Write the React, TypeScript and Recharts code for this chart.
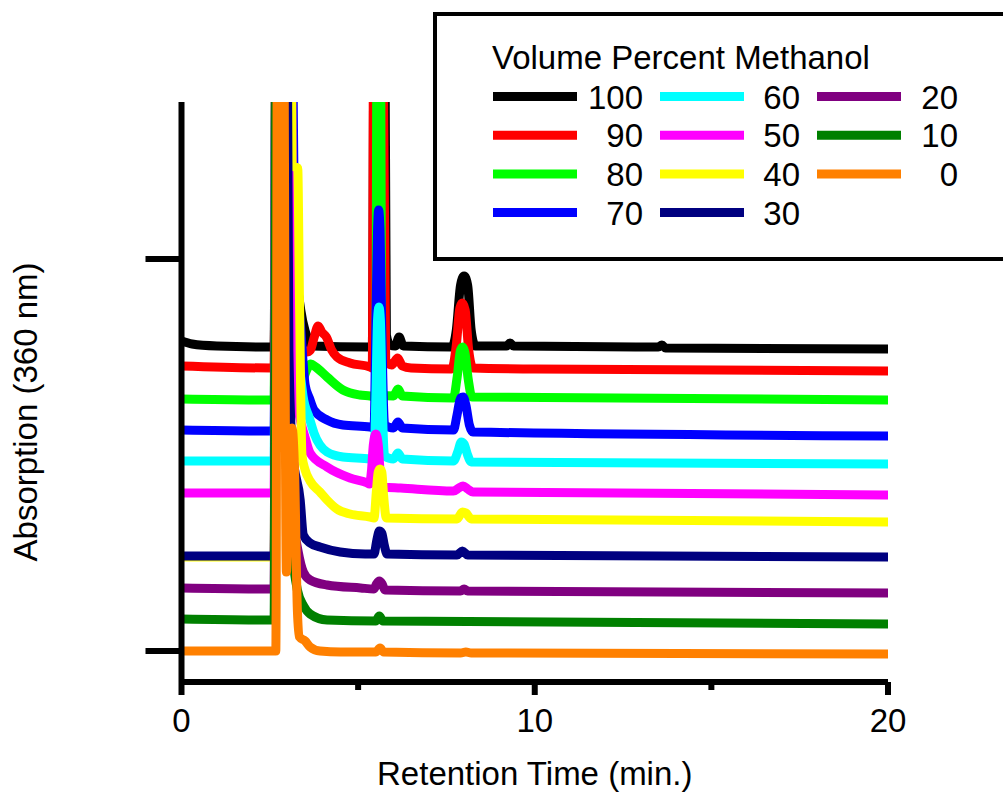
import React from 'react';
import { LineChart, Line, XAxis, YAxis, Legend } from 'recharts';

// Retention time (min) vs absorbance (mAU, offset per trace); 900 = off-scale peak
const trace100: [number, number][] = [
  [0, 310], [0.3, 307], [1.0, 305], [2.55, 304], [2.62, 304], [2.7, 900], [3.05, 900], [3.17, 420], [3.38, 340],
  [3.5, 320], [3.58, 312], [3.68, 305], [5.3, 304], [5.4, 304], [5.48, 900], [5.72, 900], [5.8, 316], [5.9, 306],
  [6.05, 305], [6.16, 314], [6.28, 305], [7.65, 304], [7.78, 321], [7.9, 366], [8.0, 375], [8.1, 366], [8.2, 321],
  [8.32, 305], [9.2, 305], [9.3, 308], [9.4, 305], [13.5, 304], [13.6, 306], [13.7, 303], [20, 302],
];
const trace90: [number, number][] = [
  [0, 285], [2.55, 283], [2.62, 283], [2.7, 900], [3.04, 900], [3.16, 351], [3.36, 306], [3.55, 299], [3.65, 301],
  [3.75, 313], [3.87, 325], [3.97, 319], [4.1, 314], [4.25, 301], [4.4, 294], [4.77, 288], [5.34, 284], [5.4, 283],
  [5.46, 900], [5.64, 900], [5.78, 291], [5.95, 286], [6.12, 293], [6.25, 285], [6.5, 283], [7.65, 282], [7.78, 306],
  [7.88, 343], [7.95, 348], [8.03, 341], [8.13, 301], [8.25, 283], [10, 282], [20, 280],
];
const trace80: [number, number][] = [
  [0, 252], [2.55, 251], [2.62, 251], [2.7, 900], [3.04, 900], [3.16, 321], [3.38, 266], [3.52, 279], [3.66, 287],
  [3.8, 284], [4.12, 274], [4.57, 261], [5.05, 256], [5.34, 255], [5.5, 254], [5.55, 900], [5.61, 900], [5.67, 256],
  [6.0, 255], [6.13, 262], [6.25, 255], [7.7, 253], [7.8, 273], [7.9, 301], [7.96, 304], [8.02, 299], [8.12, 271],
  [8.22, 254], [20, 251],
];
const trace70: [number, number][] = [
  [0, 221], [2.55, 220], [2.62, 220], [2.7, 900], [3.06, 900], [3.21, 411], [3.38, 321], [3.5, 266], [3.62, 253],
  [3.75, 241], [4.12, 231], [4.57, 226], [5.34, 224], [5.45, 223], [5.5, 321], [5.55, 421], [5.58, 441], [5.62, 421],
  [5.67, 321], [5.75, 226], [6.0, 223], [6.13, 229], [6.25, 223], [7.7, 221], [7.8, 236], [7.9, 253], [7.97, 254],
  [8.05, 246], [8.15, 226], [8.25, 219], [20, 215],
];
const trace60: [number, number][] = [
  [0, 190], [2.55, 190], [2.62, 190], [2.7, 900], [3.0, 900], [3.12, 421], [3.44, 255], [3.62, 233], [3.75, 218],
  [4.12, 199], [4.57, 194], [5.34, 192], [5.45, 191], [5.5, 251], [5.55, 331], [5.59, 344], [5.63, 331], [5.68, 251],
  [5.75, 195], [6.0, 192], [6.13, 198], [6.25, 192], [7.7, 190], [7.82, 199], [7.92, 209], [8.0, 207], [8.1, 196],
  [8.2, 189], [20, 187],
];
const trace50: [number, number][] = [
  [0, 158], [2.55, 158], [2.62, 158], [2.7, 900], [3.02, 900], [3.2, 271], [3.52, 211], [3.64, 198], [4.12, 184],
  [4.77, 173], [5.26, 168], [5.32, 167], [5.38, 181], [5.43, 206], [5.5, 217], [5.57, 206], [5.63, 176], [5.72, 164],
  [6.2, 163], [7.7, 160], [7.85, 163], [7.97, 165], [8.1, 162], [8.25, 159], [20, 156],
];
const trace40: [number, number][] = [
  [0, 94], [2.55, 94], [2.62, 94], [2.7, 900], [3.07, 900], [3.13, 485], [3.29, 483], [3.34, 351], [3.41, 196],
  [3.5, 181], [3.64, 170], [3.92, 159], [4.12, 151], [4.4, 142], [4.77, 137], [5.34, 134], [5.45, 133], [5.52, 161],
  [5.57, 179], [5.62, 182], [5.67, 179], [5.72, 156], [5.8, 133], [7.8, 132], [7.95, 139], [8.05, 138], [8.2, 132],
  [20, 129],
];
const trace30: [number, number][] = [
  [0, 95], [2.55, 95], [2.62, 95], [2.7, 900], [2.95, 900], [3.04, 300], [3.14, 200], [3.36, 151], [3.45, 116],
  [3.64, 108], [3.92, 104], [4.49, 99], [5.2, 97], [5.45, 97], [5.53, 111], [5.6, 120], [5.67, 118], [5.74, 106],
  [5.82, 97], [7.8, 96], [7.95, 100], [8.1, 96], [20, 94],
];
const trace20: [number, number][] = [
  [0, 63], [2.55, 62], [2.62, 62], [2.7, 900], [2.8, 900], [2.92, 221], [3.3, 100], [3.45, 79], [3.64, 71],
  [4.12, 66], [5.07, 63], [5.45, 62], [5.52, 67], [5.6, 70], [5.68, 67], [5.76, 61], [7.9, 60], [8.0, 62], [8.1, 60],
  [20, 58],
];
const trace10: [number, number][] = [
  [0, 32], [2.55, 31], [2.62, 31], [2.7, 900], [2.8, 900], [2.92, 221], [3.28, 61], [3.46, 45], [3.64, 37],
  [4.12, 31], [5.5, 30], [5.6, 35], [5.7, 30], [20, 27],
];
const trace0: [number, number][] = [
  [0, 0], [2.5, 0], [2.67, 0], [2.73, 900], [2.86, 900], [2.97, 79], [3.05, 181], [3.13, 223], [3.2, 181], [3.28, 41],
  [3.34, 14], [3.5, 10], [3.64, 4], [3.92, 0], [4.5, -1], [5.5, -1], [5.62, 3], [5.72, -1], [7.9, -2], [8.05, -1],
  [8.2, -2], [20, -3],
];

const methanolLabels = ['100', '90', '80', '70', '60', '50', '40', '30', '20', '10', '0'];
const traceColors = ['#000000', '#ff0000', '#00ff00', '#0000ff', '#00ffff', '#ff00ff', '#ffff00', '#000080', '#800080', '#008000', '#ff8000'];
const traces = [trace100, trace90, trace80, trace70, trace60, trace50, trace40, trace30, trace20, trace10, trace0];

const xTicks = [0, 5, 10, 15, 20];
const xMajorTicks = [0, 10, 20];
const yTicks = [0, 392];
const legendTitle = 'Volume Percent Methanol';
const xTitle = 'Retention Time (min.)';
const yTitle = 'Absorption (360 nm)';

const FONT = '"Liberation Sans", Arial, sans-serif';
const FS = 33;

const series = traces.map((tr, i) => ({
  name: methanolLabels[i],
  color: traceColors[i],
  data: tr.map(([t, a]) => ({ t, a })),
}));

const XTick = (props: any) => {
  const { x, y, payload } = props;
  const major = xMajorTicks.includes(payload.value);
  return (
    <g>
      <line x1={x} x2={x} y1={y} y2={y + (major ? 13 : 8)} stroke="#000" strokeWidth={6} />
      {major && (
        <text x={x} y={y + 50} textAnchor="middle" fontSize={FS} fontFamily={FONT} fill="#000">
          {payload.value}
        </text>
      )}
    </g>
  );
};

const XTitle = (props: any) => {
  const vb = props.viewBox || {};
  return (
    <text x={vb.x + vb.width / 2} y={vb.y + 103} textAnchor="middle" fontSize={FS} fontFamily={FONT} fill="#000">
      {xTitle}
    </text>
  );
};

const YTitle = (props: any) => {
  const vb = props.viewBox || {};
  const cx = 25;
  const cy = vb.y + vb.height / 2 + 20;
  return (
    <text x={cx} y={cy} transform={`rotate(-90, ${cx}, ${cy})`} textAnchor="middle" dominantBaseline="central"
      fontSize={FS} fontFamily={FONT} fill="#000">
      {yTitle}
    </text>
  );
};

const LegendBox = () => {
  const colX = [60, 227, 384];
  const lineLen = 84;
  const labelRight = [210, 367, 525];
  const rowY0 = 84.5;
  const rowGap = 38.7;
  return (
    <svg width={580} height={249} style={{ display: 'block' }}>
      <rect x={2} y={2} width={600} height={245} fill="#fff" stroke="#000" strokeWidth={4} />
      <text x={59} y={57} fontSize={FS} fontFamily={FONT} fill="#000">{legendTitle}</text>
      {series.map((s, i) => {
        const col = Math.floor(i / 4);
        const row = i % 4;
        const cy = rowY0 + row * rowGap;
        return (
          <g key={s.name}>
            <line x1={colX[col]} x2={colX[col] + lineLen} y1={cy} y2={cy} stroke={s.color} strokeWidth={9} />
            <text x={labelRight[col]} y={cy + 12} textAnchor="end" fontSize={FS} fontFamily={FONT} fill="#000">
              {s.name}
            </text>
          </g>
        );
      })}
    </svg>
  );
};

export default function App() {
  return (
    <div style={{ position: 'absolute', left: 0, top: 0, width: 1003, height: 793, overflow: 'hidden', background: '#fff' }}>
      <LineChart width={1003} height={793} margin={{ top: 102, right: 115, bottom: 51, left: 121.5 }}>
        <XAxis
          type="number"
          dataKey="t"
          domain={[0, 20]}
          ticks={xTicks}
          interval={0}
          allowDataOverflow
          height={60}
          axisLine={{ stroke: '#000', strokeWidth: 6 }}
          tickLine={false}
          tickSize={0}
          tickMargin={0}
          tick={<XTick />}
          label={{ content: <XTitle /> } as any}
        />
        <YAxis
          type="number"
          domain={[-31, 549]}
          ticks={yTicks}
          interval={0}
          allowDataOverflow
          width={60}
          axisLine={{ stroke: '#000', strokeWidth: 6 }}
          tickLine={{ stroke: '#000', strokeWidth: 6 }}
          tickSize={36}
          tickFormatter={() => ''}
          label={{ content: <YTitle /> } as any}
        />
        <Legend
          layout="horizontal"
          verticalAlign="middle"
          align="center"
          content={<LegendBox />}
          wrapperStyle={{ position: 'absolute', left: 433, top: 12, width: 580, height: 249 }}
        />
        {series.map((s) => (
          <Line
            key={s.name}
            name={s.name}
            data={s.data}
            dataKey="a"
            type="monotone"
            stroke={s.color}
            strokeWidth={9}
            strokeLinejoin="round"
            strokeLinecap="round"
            dot={false}
            activeDot={false}
            isAnimationActive={false}
          />
        ))}
      </LineChart>
    </div>
  );
}
